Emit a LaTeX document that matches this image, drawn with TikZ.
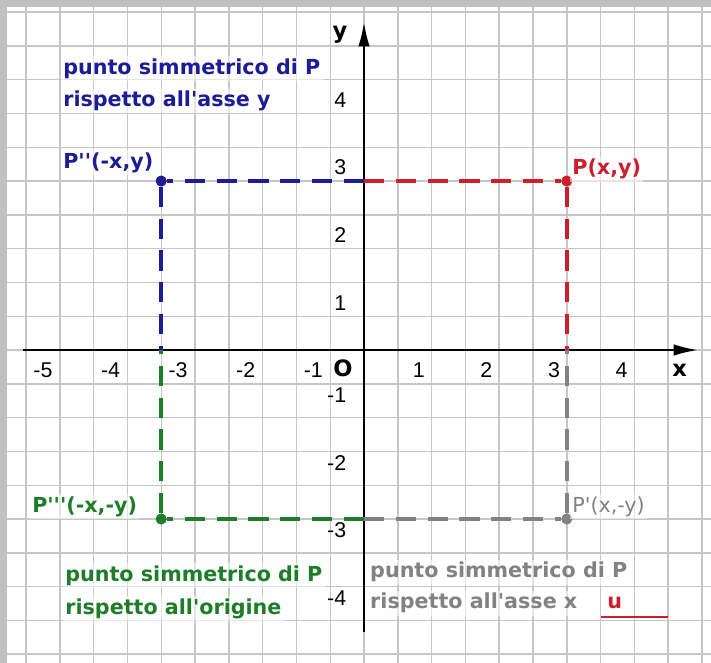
\documentclass[tikz,border=0pt]{standalone}
\usepackage{fontspec}
\setmainfont{Liberation Sans}
\newfontfamily\labfont{DejaVu Sans}[Ligatures=TeXOff]
\usetikzlibrary{arrows.meta}
\definecolor{symblue}{RGB}{28,28,150}
\definecolor{symred}{RGB}{205,30,45}
\definecolor{symgreen}{RGB}{30,125,40}
\definecolor{symgray}{RGB}{130,130,130}
\definecolor{framegray}{RGB}{192,192,192}
\tikzset{
  gridline/.style={gray!45,line width=.6pt},
  axis/.style={line width=.9pt,-{Latex[length=3.6mm,width=1.7mm]}},
  proj/.style={#1,line width=1.8pt,dash pattern=on 3mm off 1.7mm},
  dot/.style={circle,fill=#1,inner sep=0pt,minimum size=1.6mm},
  tick/.style={font=\fontsize{9}{10}\selectfont},
  txt/.style={anchor=base west,inner sep=1pt,fill=white,fill opacity=.55,text opacity=1,text=#1,font=\labfont\bfseries\fontsize{8.7}{10}\selectfont},
  axlabel/.style={font=\labfont\bfseries\fontsize{9.5}{10}\selectfont},
}
\begin{document}
\begin{tikzpicture}
\useasboundingbox (-5.385,-4.63) rectangle (5.133,5.178);
\fill[white] (-5.385,-4.63) rectangle (5.133,5.178);
\draw[gridline] (-5.385,-4.63) grid[step=.5] (5.133,5.178);
\fill[framegray] (-5.385,-4.63) rectangle (-5.281,5.178);
\fill[framegray] (-5.385,5.074) rectangle (5.133,5.178);

\coordinate (xs) at (-5.04,0);
\coordinate (xe) at (4.94,0);
\coordinate (ys) at (0,-4.17);
\coordinate (ye) at (0,4.85);
\draw[axis] (xs) -- (xe);
\draw[axis] (ys) -- (ye);
\node[axlabel] (xl) at (4.67,-.3) {x};
\node[axlabel] (yl) at (-.355,4.66) {y};
\node[axlabel] (o) at (-.31,-.27) {O};

\foreach \n in {1,...,4} \node[tick] (tx\n) at (\n-.19,-.3) {\n};
\foreach \n in {1,...,5} \node[tick] (txm\n) at (-\n+.25,-.3) {-\n};
\foreach \n in {1,...,4} \node[tick,anchor=east] (ty\n) at (-.14,\n-.3) {\n};
\foreach \n in {1,...,4} \node[tick,anchor=east] (tym\n) at (-.14,-\n+.33) {-\n};

\node[dot=symred] (P) at (3,2.5) {};
\node[dot=symblue] (P2) at (-3,2.5) {};
\node[dot=symgreen] (P3) at (-3,-2.5) {};
\node[dot=symgray] (P1) at (3,-2.5) {};
\coordinate (ya) at (0,2.5);
\coordinate (yb) at (0,-2.5);
\coordinate (xa) at (3,0);
\coordinate (xb) at (-3,0);
\draw[proj=symred] (ya) -- (P) -- (xa);
\draw[proj=symblue] (ya) -- (P2) -- (xb);
\draw[proj=symgreen] (yb) -- (P3) -- (xb);
\draw[proj=symgray] (yb) -- (P1) -- (xa);
\node[dot=symred] at (P) {};
\node[dot=symblue] at (P2) {};
\node[dot=symgreen] at (P3) {};
\node[dot=symgray] at (P1) {};

\node[txt=symred] (lP) at (3.04,2.59) {P(x,y)};
\node[txt=symblue] (lP2) at (-4.49,2.69) {P''(-x,y)};
\node[txt=symgreen] (lP3) at (-4.95,-2.4) {P'''(-x,-y)};
\node[txt=symgray,font=\labfont\fontsize{8.7}{10}\selectfont] (lP1) at (3.04,-2.4) {P'(x,-y)};

\node[txt=symblue] (by1) at (-4.49,4.08) {punto simmetrico di P};
\node[txt=symblue] (by2) at (-4.49,3.6) {rispetto all'asse y};
\node[txt=symgreen] (go1) at (-4.46,-3.42) {punto simmetrico di P};
\node[txt=symgreen] (go2) at (-4.46,-3.91) {rispetto all'origine};
\node[txt=symgray] (gx1) at (.05,-3.37) {punto simmetrico di P};
\node[txt=symgray] (gx2) at (.05,-3.83) {rispetto all'asse x};

\node[txt=symred,anchor=base] (u) at (3.71,-3.83) {u};
\draw[symred,line width=.7pt] (3.5,-3.95) -- (4.5,-3.95);
\end{tikzpicture}
\end{document}
